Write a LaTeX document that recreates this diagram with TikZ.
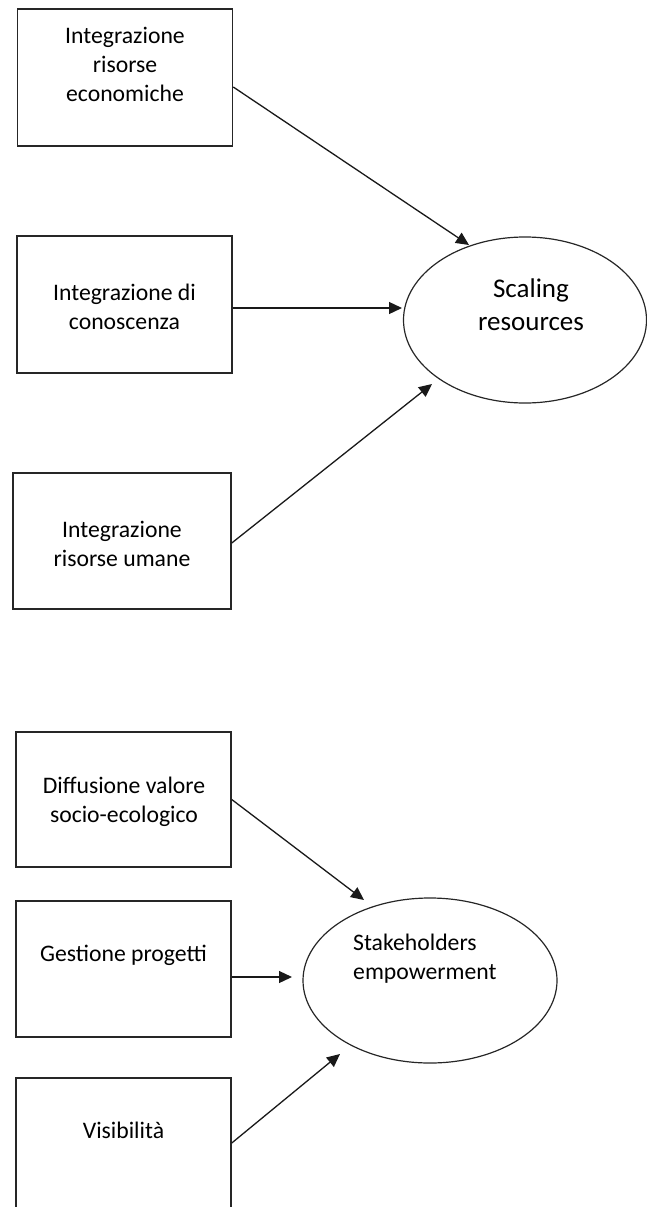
\documentclass[tikz,border=0pt]{standalone}
\usepackage{fontspec}
\setmainfont{Carlito}
\usetikzlibrary{arrows.meta,shapes.geometric}
\begin{document}
\begin{tikzpicture}[x=1pt,y=-1pt,
  box/.style={draw=black!85, line width=1.5pt, rectangle, inner sep=0pt,
              minimum width=215pt, minimum height=137pt},
  oval/.style={draw=black!85, line width=1.2pt, ellipse, inner sep=0pt},
  lbl/.style={align=center, font=\fontsize{23.7}{29}\selectfont, inner sep=0pt},
  link/.style={draw=black!90, line width=1.3pt, -{Triangle[length=13pt,width=12pt]}}]
\useasboundingbox (0,0) rectangle (646,1207);

% --- upper group: resources ---
\node[box] (b1) at (125,77.5) {};
\node[box] (b2) at (124.5,304.5) {};
\node[box, minimum width=218pt, minimum height=136pt] (b3) at (122,541) {};
\node[lbl] (l1) at (125,64) {Integrazione\\risorse\\economiche};
\node[lbl] (l2) at (124.5,306.5) {Integrazione di\\conoscenza};
\node[lbl] (l3) at (122,543.5) {Integrazione\\risorse umane};

\node[oval, minimum width=243pt, minimum height=166pt] (e1) at (525,320) {};
\node[lbl, font=\fontsize{27}{33}\selectfont] (s1) at (531,305) {Scaling\\resources};

\coordinate (t1) at (469,245);
\coordinate (t2) at (402,308);
\coordinate (t3) at (432,384);
\draw[link] ([yshift=-9.5pt]b1.east) -- (t1);
\draw[link] ([yshift=-3.5pt]b2.east) -- (t2);
\draw[link] ([yshift=-2pt]b3.east) -- (t3);

% --- lower group: stakeholders ---
\node[box, minimum height=135pt] (b4) at (123.5,799.5) {};
\node[box, minimum height=136pt] (b5) at (123.5,969) {};
\node[box] (b6) at (123.5,1146.5) {};
\node[lbl] (l4) at (124,801.5) {Diffusione valore\\socio-ecologico};
\node[lbl] (l5) at (123.5,955) {Gestione progetti};
\node[lbl] (l6) at (123.5,1130) {Visibilità};

\node[oval, minimum width=254pt, minimum height=165pt] (e2) at (430,980.5) {};
\node[lbl, align=left, anchor=west] (s2) at (353,959) {Stakeholders\\empowerment};

\coordinate (t4) at (364,900);
\coordinate (t5) at (292,977);
\coordinate (t6) at (340,1054);
\draw[link] (b4.east) -- (t4);
\draw[link] ([yshift=-8pt]b5.east) -- (t5);
\draw[link] ([yshift=3.5pt]b6.east) -- (t6);
\end{tikzpicture}
\end{document}
